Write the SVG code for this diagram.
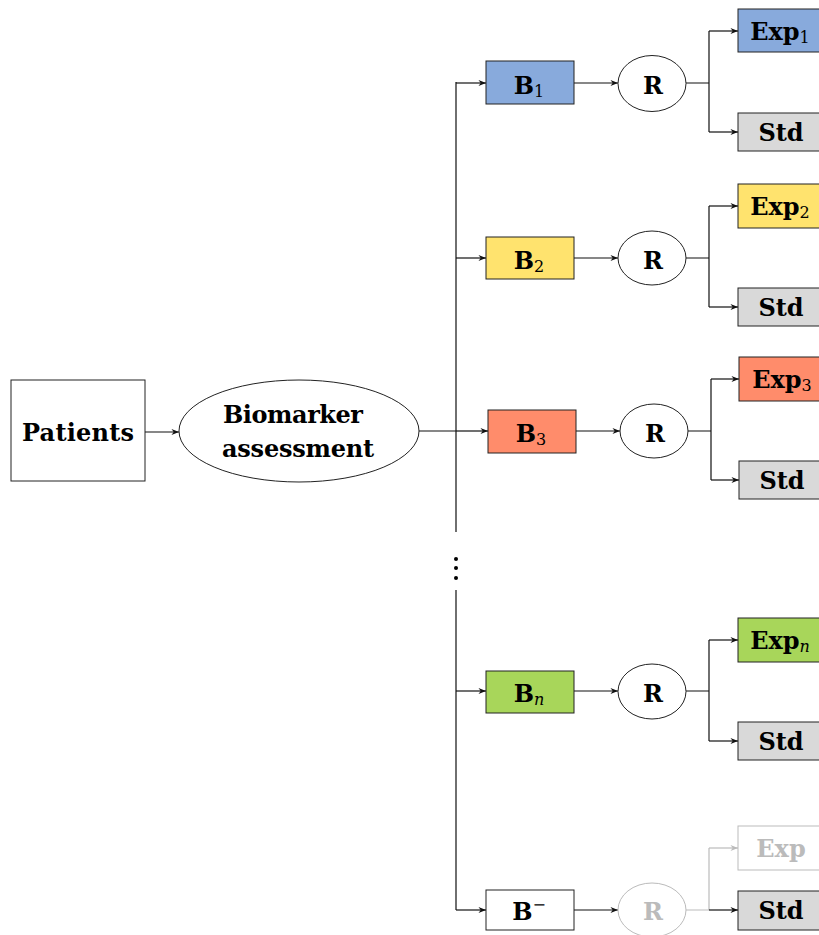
<svg xmlns="http://www.w3.org/2000/svg" width="819" height="935" viewBox="0 0 819 935">
<style>
.t{font-family:"DejaVu Serif","Liberation Serif",serif;font-weight:bold;font-size:24px;fill:#000;text-anchor:middle}
.sub{font-weight:normal;font-size:16px}
.box{stroke:#222;stroke-width:1}
.c{fill:none;stroke:#111;stroke-width:1.2}
.g{fill:none;stroke:#bbb;stroke-width:1.2}
.gt{fill:#bbb}
</style>
<defs>
<marker id="ah" viewBox="0 0 10 8" refX="10" refY="4" markerWidth="8" markerHeight="6" orient="auto" markerUnits="userSpaceOnUse"><path d="M0,0 L10,4 L0,8 L3,4 z" fill="#111"/></marker>
<marker id="ahg" viewBox="0 0 10 8" refX="10" refY="4" markerWidth="8" markerHeight="6" orient="auto" markerUnits="userSpaceOnUse"><path d="M0,0 L10,4 L0,8 L3,4 z" fill="#bbb"/></marker>
</defs>
<rect width="819" height="935" fill="#fff"/>
<g id="connectors">
<path class="c" d="M145,432 H179" marker-end="url(#ah)"/>
<path class="c" d="M419,431 H456"/>
<path class="c" d="M456,82 V532 M456,590 V910"/>
<path class="c" d="M456,83 H486" marker-end="url(#ah)"/>
<path class="c" d="M456,258 H486" marker-end="url(#ah)"/>
<path class="c" d="M456,431 H488" marker-end="url(#ah)"/>
<path class="c" d="M456,691 H486" marker-end="url(#ah)"/>
<path class="c" d="M456,910 H486" marker-end="url(#ah)"/>
<path class="c" d="M574,83 H618" marker-end="url(#ah)"/>
<path class="c" d="M574,258 H618" marker-end="url(#ah)"/>
<path class="c" d="M576,431 H620" marker-end="url(#ah)"/>
<path class="c" d="M574,691 H618" marker-end="url(#ah)"/>
<path class="c" d="M574,910 H618" marker-end="url(#ah)"/>
<path class="c" d="M686,83 H709 M709,31 V132"/>
<path class="c" d="M709,31 H738" marker-end="url(#ah)"/>
<path class="c" d="M709,132 H738" marker-end="url(#ah)"/>
<path class="c" d="M686,258 H709 M709,206 V307"/>
<path class="c" d="M709,206 H738" marker-end="url(#ah)"/>
<path class="c" d="M709,307 H738" marker-end="url(#ah)"/>
<path class="c" d="M688,431 H711 M711,379 V480"/>
<path class="c" d="M711,379 H739" marker-end="url(#ah)"/>
<path class="c" d="M711,480 H739" marker-end="url(#ah)"/>
<path class="c" d="M686,691 H709 M709,640 V741"/>
<path class="c" d="M709,640 H738" marker-end="url(#ah)"/>
<path class="c" d="M709,741 H738" marker-end="url(#ah)"/>
<path class="g" d="M686,910 H709 M709,848 V910"/>
<path class="g" d="M709,848 H738" marker-end="url(#ahg)"/>
<path class="c" d="M709,910 H738" marker-end="url(#ah)"/>
<circle cx="456" cy="559" r="2" fill="#000"/>
<circle cx="456" cy="568" r="2" fill="#000"/>
<circle cx="456" cy="578" r="2" fill="#000"/>
</g>
<g id="patients"><rect class="box" x="11" y="380" width="134" height="101" fill="#fff"/><text class="t" x="78" y="441" textLength="112">Patients</text></g>
<g id="biomarker"><ellipse cx="299" cy="431" rx="120" ry="51" fill="#fff" stroke="#222"/><text class="t" x="293" y="423" textLength="140">Biomarker</text><text class="t" x="298" y="457" textLength="152">assessment</text></g>

<g id="b1"><rect class="box" x="486" y="61" width="88" height="43" fill="#88AADC"/><text class="t" x="529" y="94">B<tspan class="sub" dy="3">1</tspan></text></g>
<g id="r1"><ellipse cx="652" cy="83.5" rx="34" ry="28" fill="#fff" stroke="#222"/><text class="t" x="653" y="94">R</text></g>
<g id="exp1"><rect class="box" x="738" y="9" width="90" height="43" fill="#88AADC"/><text class="t" x="780" y="40">Exp<tspan class="sub" dy="3">1</tspan></text></g>
<g id="std1"><rect class="box" x="738" y="113" width="90" height="38" fill="#D9D9D9"/><text class="t" x="781" y="141">Std</text></g>

<g id="b2"><rect class="box" x="486" y="237" width="88" height="42" fill="#FFE36E"/><text class="t" x="529" y="269">B<tspan class="sub" dy="3">2</tspan></text></g>
<g id="r2"><ellipse cx="652" cy="258" rx="34" ry="27" fill="#fff" stroke="#222"/><text class="t" x="653" y="269">R</text></g>
<g id="exp2"><rect class="box" x="738" y="184" width="90" height="44" fill="#FFE36E"/><text class="t" x="780" y="215">Exp<tspan class="sub" dy="3">2</tspan></text></g>
<g id="std2"><rect class="box" x="738" y="288" width="90" height="38" fill="#D9D9D9"/><text class="t" x="781" y="316">Std</text></g>

<g id="b3"><rect class="box" x="488" y="410" width="88" height="43" fill="#FF8C6B"/><text class="t" x="531" y="442">B<tspan class="sub" dy="3">3</tspan></text></g>
<g id="r3"><ellipse cx="654" cy="431" rx="34" ry="27" fill="#fff" stroke="#222"/><text class="t" x="655" y="442">R</text></g>
<g id="exp3"><rect class="box" x="739" y="357" width="90" height="44" fill="#FF8C6B"/><text class="t" x="782" y="388">Exp<tspan class="sub" dy="3">3</tspan></text></g>
<g id="std3"><rect class="box" x="739" y="461" width="90" height="38" fill="#D9D9D9"/><text class="t" x="782" y="489">Std</text></g>

<g id="bn"><rect class="box" x="486" y="671" width="88" height="42" fill="#A8D65A"/><text class="t" x="529" y="702">B<tspan class="sub" font-style="italic" dy="3">n</tspan></text></g>
<g id="rn"><ellipse cx="652" cy="691.5" rx="34" ry="27.5" fill="#fff" stroke="#222"/><text class="t" x="653" y="702">R</text></g>
<g id="expn"><rect class="box" x="738" y="618" width="90" height="44" fill="#A8D65A"/><text class="t" x="780" y="649">Exp<tspan class="sub" font-style="italic" dy="3">n</tspan></text></g>
<g id="stdn"><rect class="box" x="738" y="722" width="90" height="38" fill="#D9D9D9"/><text class="t" x="781" y="750">Std</text></g>

<g id="bminus"><rect class="box" x="486" y="890" width="88" height="40" fill="#fff"/><text class="t" x="529" y="920">B<tspan class="sub" dy="-10">−</tspan></text></g>
<g id="rminus"><ellipse cx="652" cy="910" rx="34" ry="27" fill="#fff" stroke="#bbb"/><text class="t gt" x="653" y="920">R</text></g>
<g id="expminus"><rect x="738" y="826" width="90" height="44" fill="#fff" stroke="#bbb"/><text class="t gt" x="781" y="857">Exp</text></g>
<g id="stdminus"><rect class="box" x="738" y="891" width="90" height="39" fill="#D9D9D9"/><text class="t" x="781" y="919">Std</text></g>
</svg>
